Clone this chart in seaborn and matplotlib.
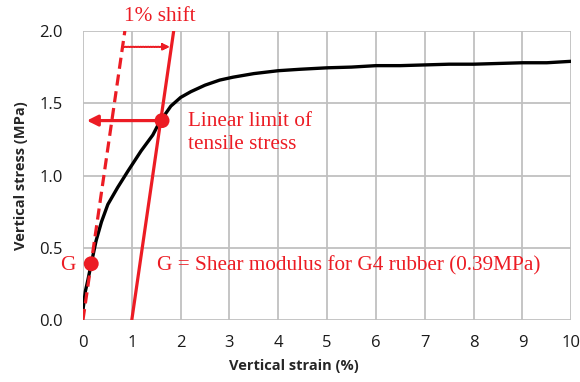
import numpy as np
import pandas as pd
import matplotlib
matplotlib.use("Agg")
import matplotlib.pyplot as plt
import seaborn as sns

# ---- data ----
strain = [0.0, 0.05, 0.10, 0.17, 0.27, 0.38, 0.51, 0.71, 0.92, 1.19, 1.43, 1.56,
          1.80, 2.0, 2.21, 2.5, 2.8, 3.07, 3.5, 4.0, 4.45, 5.0, 5.5, 6.0, 6.5,
          7.0, 7.5, 8.0, 8.5, 9.0, 9.5, 10.0]
stress = [0.07, 0.20, 0.275, 0.39, 0.55, 0.68, 0.80, 0.917, 1.03, 1.17, 1.28, 1.364,
          1.48, 1.54, 1.58, 1.625, 1.66, 1.68, 1.705, 1.725, 1.735, 1.745, 1.75, 1.76,
          1.76, 1.765, 1.77, 1.77, 1.775, 1.78, 1.78, 1.79]
slope = 2.33            # stress per % strain of the linear (shear modulus) line
shift = 1.0             # 1 % offset
g_point = (0.17, 0.39)
limit_point = (1.62, 1.38)
shift_arrow_y = 1.89
x_ticks = list(range(0, 11))
y_ticks = [0.0, 0.5, 1.0, 1.5, 2.0]

RED = "#ec1c24"
GRID = "#c0c0c0"
df = pd.DataFrame({"strain": strain, "stress": stress})

sns.set_style("white")
plt.rcParams["font.family"] = ["Open Sans", "DejaVu Sans"]

fig = plt.figure(figsize=(5.8, 3.82), dpi=100)
ax = fig.add_axes([0.143, 0.162, 0.842, 0.757])

sns.lineplot(data=df, x="strain", y="stress", ax=ax, color="black", lw=2.4, zorder=3)

# linear lines
y_end = 2.0
ax.plot([0, y_end / slope], [0, y_end], color=RED, lw=2.3, ls=(0, (3.5, 1.8)), zorder=4)
ax.plot([shift, shift + y_end / slope], [0, y_end], color=RED, lw=2.3, zorder=4)

# shift arrow (dotted)
xa = shift_arrow_y / slope
ax.annotate("", xy=(shift + xa - 0.03, shift_arrow_y), xytext=(xa, shift_arrow_y),
            arrowprops=dict(arrowstyle="-|>", color=RED, lw=1.5, ls=(0, (0.6, 0.6)),
                            mutation_scale=10, shrinkA=0, shrinkB=0), zorder=5)

# horizontal arrow from linear limit
ax.annotate("", xy=(0.08, limit_point[1]), xytext=limit_point,
            arrowprops=dict(arrowstyle="-|>", color=RED, lw=2.3,
                            mutation_scale=16, shrinkA=0, shrinkB=0), zorder=5)

ax.scatter([limit_point[0], g_point[0]], [limit_point[1], g_point[1]],
           s=115, color=RED, zorder=6, edgecolor="none")

serif = ["Liberation Serif", "DejaVu Serif"]
FS = 15.3
ax.text(1.58, 2.032, "1% shift", color=RED, fontsize=FS, family=serif,
        ha="center", va="bottom", clip_on=False)
ax.text(2.15, 1.375, "Linear limit of", color=RED, fontsize=FS,
        family=serif, ha="left", va="center")
ax.text(2.15, 1.215, "tensile stress", color=RED, fontsize=FS,
        family=serif, ha="left", va="center")
ax.text(-0.16, 0.375, "G", color=RED, fontsize=FS, family=serif,
        ha="right", va="center", clip_on=False)
ax.text(1.52, 0.375, "G = Shear modulus for G4 rubber (0.39MPa)", color=RED,
        fontsize=FS, family=serif, ha="left", va="center")

ax.set_xlim(0, 10)
ax.set_ylim(0, 2.0)
ax.set_xticks(x_ticks)
ax.set_yticks(y_ticks)
ax.set_yticklabels([f"{v:.1f}" for v in y_ticks])
ax.grid(True, color=GRID, lw=1.3)
for s in ax.spines.values():
    s.set_visible(False)
ax.tick_params(axis="both", length=3.5, width=1.2, color=GRID, labelsize=12,
               labelcolor="#1a1a1a")
ax.tick_params(axis="y", pad=11)
ax.tick_params(axis="x", pad=7)
ax.set_xlabel("Vertical strain (%)", fontsize=10.5, fontweight="bold")
ax.set_ylabel("Vertical stress (MPa)", fontsize=10.5, fontweight="bold")
ax.xaxis.set_label_coords(0.432, -0.133)
ax.yaxis.set_label_coords(-0.113, 0.5)
ax.set_axisbelow(True)

fig.savefig("out.png", dpi=100)
